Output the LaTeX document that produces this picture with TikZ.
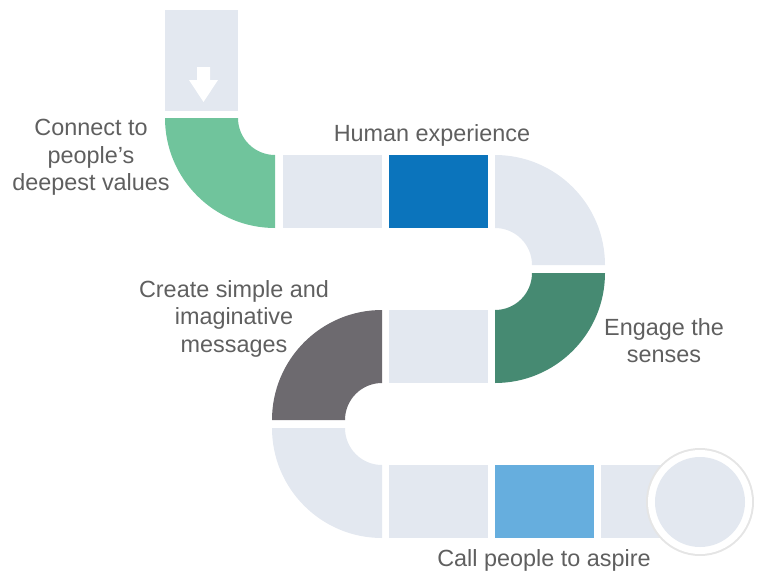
\documentclass[tikz,border=0pt]{standalone}
\usepackage{fontspec}
\setmainfont{Liberation Sans}
\definecolor{lightstep}{HTML}{E3E8F0}
\definecolor{mintgreen}{HTML}{70C49C}
\definecolor{deepblue}{HTML}{0B74BC}
\definecolor{pinegreen}{HTML}{468A72}
\definecolor{slategray}{HTML}{6D6A6F}
\definecolor{skyblue}{HTML}{66AEDE}
\definecolor{txtgray}{HTML}{5F5F5F}
\begin{document}
\begin{tikzpicture}[x=1pt,y=-1pt,
    lbl/.style={align=center,text=txtgray,inner sep=0pt,font={\fontsize{23.4}{27.5}\selectfont}}]
        \useasboundingbox (0,0) rectangle (760,573);

        % start with the arrow
        \fill[lightstep] (165,10) rectangle (238,111);
        \fill[white] (197,67) -- (210,67) -- (210,80) -- (218,80) -- (203.5,102) -- (189,80) -- (197,80) -- cycle;
        \fill[mintgreen] (165,118) arc[start angle=180,end angle=90,radius=110] -- (275,155) arc[start angle=90,end angle=180,radius=37] -- cycle;

        % first row
        \fill[lightstep] (283,155) rectangle (382,228);
        \fill[deepblue] (389,155) rectangle (488,228);
        \fill[lightstep] (495,155) arc[start angle=-90,end angle=0,radius=110] -- (532,265) arc[start angle=0,end angle=-90,radius=37] -- cycle;
        \fill[pinegreen] (605,273) arc[start angle=0,end angle=90,radius=110] -- (495,310) arc[start angle=90,end angle=0,radius=37] -- cycle;

        % second row
        \fill[lightstep] (389,310) rectangle (488,383);
        \fill[slategray] (382,310) arc[start angle=-90,end angle=-180,radius=110] -- (345,420) arc[start angle=180,end angle=270,radius=37] -- cycle;
        \fill[lightstep] (272,428) arc[start angle=180,end angle=90,radius=110] -- (382,465) arc[start angle=90,end angle=180,radius=37] -- cycle;

        % third row and goal
        \fill[lightstep] (389,465) rectangle (488,538);
        \fill[skyblue] (495,465) rectangle (594,538);
        \fill[lightstep] (601,465) rectangle (700,538);
        \fill[black!10] (700,502) circle (54);
        \fill[white] (700,502) circle (52);
        \fill[lightstep] (700,502) circle (45);

        \node[lbl] (values) at (91,157.5) {Connect to\\people’s\\deepest values};
        \node[lbl,anchor=base] (human) at (432,141) {Human experience};
        \node[lbl] (create) at (234,318.5) {Create simple and\\imaginative\\messages};
        \node[lbl] (senses) at (664,340.5) {Engage the\\senses};
        \node[lbl,anchor=base] (aspire) at (544,566) {Call people to aspire};
\end{tikzpicture}
\end{document}
